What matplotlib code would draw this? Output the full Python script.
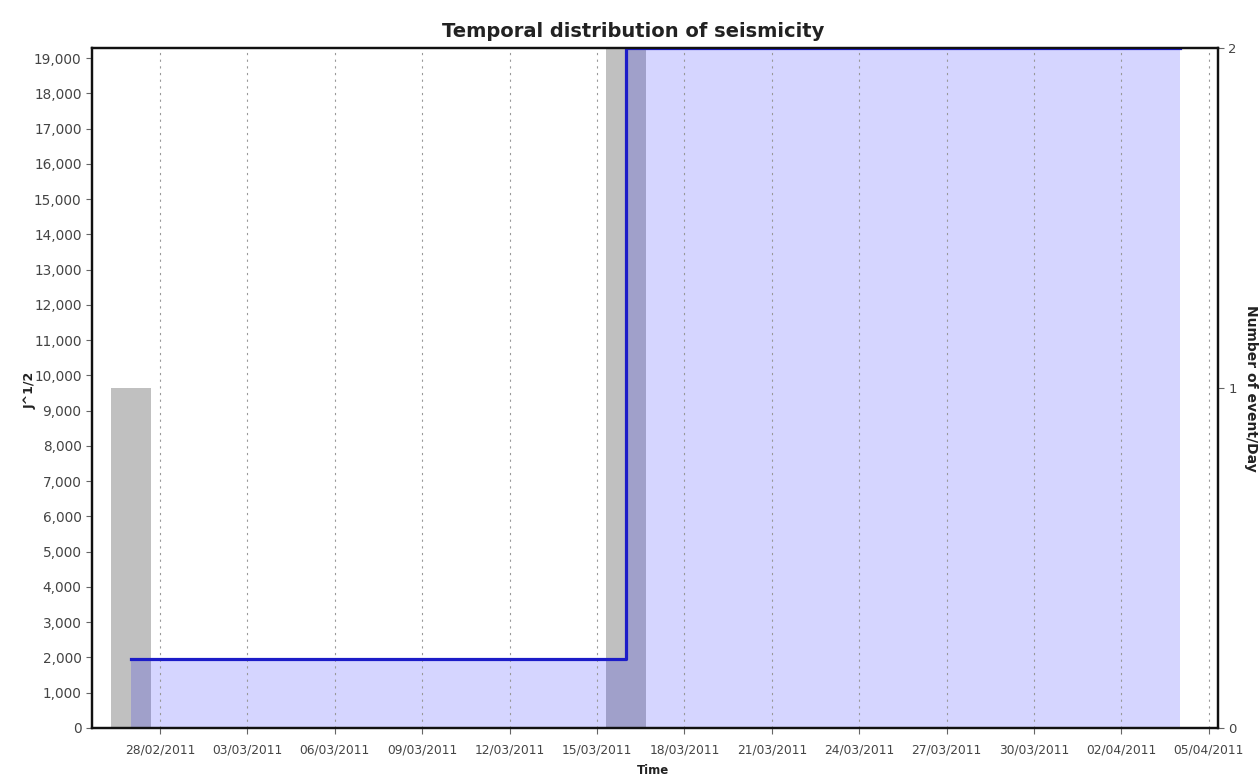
import pandas as pd
import matplotlib
matplotlib.use('Agg')
import matplotlib.pyplot as plt
import matplotlib.dates as mdates
from matplotlib.ticker import FuncFormatter, FixedLocator

plt.rcParams['font.family'] = ['DejaVu Sans']

# Events (daily bars of J^1/2)
event_dates = pd.to_datetime(['2011-02-27', '2011-03-16'])
sqrt_energy = [9650, 19290]

# Cumulative step line
step_dates = pd.to_datetime(['2011-02-27', '2011-03-16', '2011-04-04'])
step_values = [1960, 19290, 19290]

# Axis ranges and ticks
x_start = pd.Timestamp('2011-02-25 16:00')
x_end = pd.Timestamp('2011-04-05 07:30')
y_max = 19290
tick_dates = pd.date_range('2011-02-28', '2011-04-05', freq='3D')

fig = plt.figure(figsize=(12.59, 7.78), dpi=100)
ax = fig.add_axes([0.0731, 0.0643, 0.8943, 0.874])

# Gray bars (one per event day)
ax.bar(event_dates, sqrt_energy, width=1.37, color='#c0c0c0', zorder=1)

# Step line with light fill underneath
ax.fill_between(step_dates, step_values, step='post', color='#0000ff', alpha=0.165,
                linewidth=0, zorder=2)
ax.step(step_dates, step_values, where='post', color='#1c1cc8', linewidth=2.3, zorder=4)

ax.set_xlim(x_start, x_end)
ax.set_ylim(0, y_max)
ax.xaxis.set_major_locator(FixedLocator(mdates.date2num(tick_dates)))
ax.xaxis.set_major_formatter(mdates.DateFormatter('%d/%m/%Y'))
ax.yaxis.set_major_locator(FixedLocator(range(0, 19001, 1000)))
ax.yaxis.set_major_formatter(FuncFormatter(lambda v, p: f'{int(v):,}'))
ax.tick_params(axis='y', labelsize=9.8, labelcolor='#444444', color='#666666', length=4.5, pad=3)
ax.tick_params(axis='x', labelsize=8.8, labelcolor='#444444', color='#666666', length=4.5, pad=7)
ax.grid(axis='x', linestyle=(0, (2, 4)), color='#999999', linewidth=0.8, zorder=3)
ax.set_axisbelow(False)

for s in ax.spines.values():
    s.set_linewidth(1.6)
    s.set_color('#111111')

ax.set_xlabel('Time', fontsize=8.5, fontweight='bold', color='#222222', va='center')
ax.xaxis.set_label_coords(0.498, -0.0625)
ax.set_ylabel('J^1/2', fontsize=9, fontweight='bold', color='#222222')
ax.yaxis.set_label_coords(-0.049, 0.497)
fig.suptitle('Temporal distribution of seismicity', x=0.503, y=0.972, fontsize=14,
             fontweight='bold', color='#222222')

# Right axis: number of events per day
ax2 = ax.twinx()
ax2.set_ylim(0, 2)
ax2.set_yticks([0, 1, 2])
ax2.tick_params(labelsize=9.5, labelcolor='#444444', color='#666666', length=4.5, pad=3)
ax2.set_ylabel('Number of event/Day', fontsize=10, fontweight='bold', rotation=270,
               color='#222222', va='center')
ax2.yaxis.set_label_coords(1.029, 0.5)
for s in ax2.spines.values():
    s.set_linewidth(1.6)
    s.set_color('#111111')

fig.savefig('out.png', dpi=100)
